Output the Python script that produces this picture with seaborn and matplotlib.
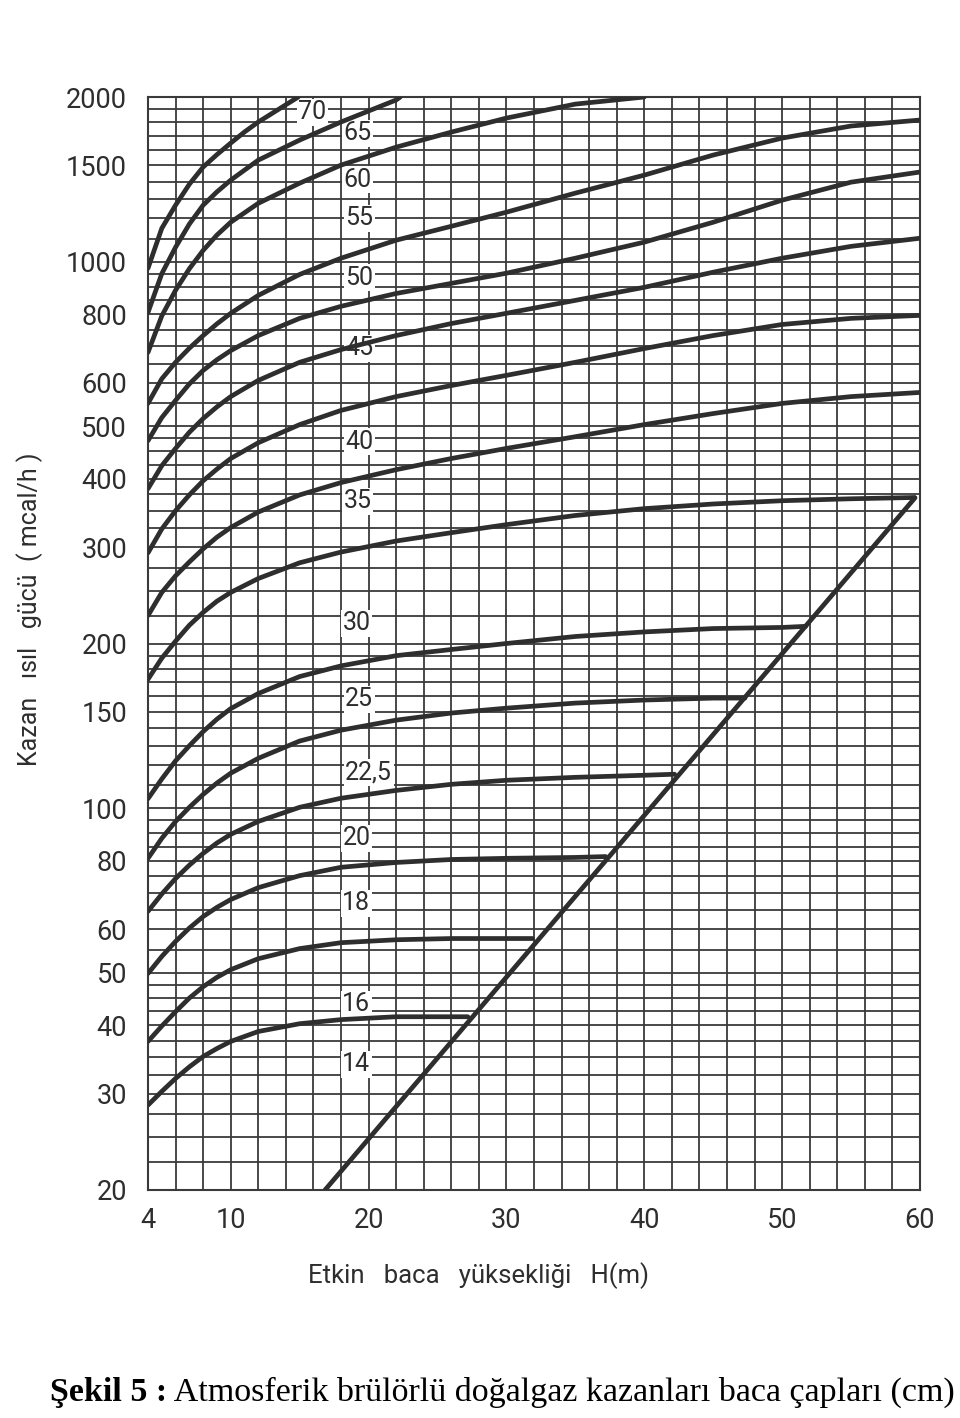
import numpy as np
import pandas as pd
import matplotlib
matplotlib.use("Agg")
import matplotlib.pyplot as plt
from matplotlib.ticker import NullFormatter, FixedLocator
import seaborn as sns

# ---------------- data ----------------
# chimney diameter (cm) -> effective height H (m) and boiler power (Mcal/h)
h_14 = [4, 5, 6, 7, 8, 9, 10, 12, 15, 18, 22, 26, 27.2]
v_14 = [28.6, 30.3, 32.0, 33.6, 35.1, 36.3, 37.4, 39.0, 40.3, 41.0, 41.5, 41.5, 41.5]
h_16 = [4, 5, 6, 7, 8, 9, 10, 12, 15, 18, 22, 26, 30, 31.9]
v_16 = [37.4, 39.9, 42.4, 44.9, 47.1, 49.0, 50.6, 53.0, 55.3, 56.7, 57.4, 57.7, 57.7, 57.7]
h_18 = [4, 5, 6, 7, 8, 9, 10, 12, 15, 18, 22, 26, 30, 35, 37.2]
v_18 = [49.8, 53.5, 57.0, 60.3, 63.3, 65.8, 68.0, 71.5, 75.2, 77.9, 79.5, 80.5, 80.9, 81.2, 81.5]
h_20 = [4, 5, 6, 7, 8, 9, 10, 12, 15, 18, 22, 26, 30, 35, 40, 42.2]
v_20 = [64.7, 69.6, 74.3, 78.6, 82.6, 86.3, 89.5, 94.5, 100.3, 104.2, 107.7, 110.5,
        112.4, 113.8, 114.8, 115.3]
h_225 = [4, 5, 6, 7, 8, 9, 10, 12, 15, 18, 22, 26, 30, 35, 40, 45, 47.3]
v_225 = [80.9, 88.0, 94.5, 100.3, 105.9, 111.1, 115.8, 123.3, 132.6, 138.8, 144.8,
         149.2, 152.3, 155.6, 157.6, 158.9, 158.9]
h_25 = [4, 5, 6, 7, 8, 9, 10, 12, 15, 18, 22, 26, 30, 35, 40, 45, 50, 51.7]
v_25 = [104, 113, 122, 130, 138, 145.4, 152, 162, 174, 182, 190, 195, 200, 206,
        210, 213, 214, 215]
h_30 = [4, 5, 6, 7, 8, 9, 10, 12, 15, 18, 22, 26, 30, 35, 40, 45, 50, 55, 59.6]
v_30 = [172, 188, 202, 216, 228, 239, 248, 263, 281, 294, 308, 319, 330, 343, 353,
        360, 365, 368, 370]
h_35 = [4, 5, 6, 7, 8, 9, 10, 12, 15, 18, 22, 26, 30, 35, 40, 45, 50, 55, 60]
v_35 = [225, 248, 266, 282, 298, 313, 326, 348, 374, 394, 416, 436, 455, 478, 503,
        527, 550, 566, 576]
h_40 = [4, 5, 6, 7, 8, 9, 10, 12, 15, 18, 22, 26, 30, 35, 40, 45, 50, 55, 60]
v_40 = [293, 324, 350, 374, 397, 417, 436, 466, 503, 534, 566, 593, 619, 654, 693,
        732, 767, 787, 797]
h_45 = [4, 5, 6, 7, 8, 9, 10, 12, 15, 18, 22, 26, 30, 35, 40, 45, 50, 55, 60]
v_45 = [384, 423, 455, 487, 516, 542, 566, 606, 654, 690, 732, 770, 804, 849, 897,
        956, 1014, 1066, 1103]
h_50 = [4, 5, 6, 7, 8, 9, 10, 12, 15, 18, 22, 26, 30, 35, 40, 45, 50, 55, 60]
v_50 = [470, 518, 557, 597, 632, 661, 687, 732, 787, 828, 874, 912, 952, 1014, 1085,
        1180, 1295, 1397, 1458]
h_55 = [4, 5, 6, 7, 8, 9, 10, 12, 15, 18, 22, 26, 30, 35, 40, 45, 50, 55, 60]
v_55 = [550, 610, 654, 694, 732, 769, 804, 867, 947, 1014, 1094, 1160, 1231, 1334,
        1439, 1566, 1682, 1770, 1815]
h_60 = [4, 5, 6, 7, 8, 9, 10, 12, 15, 18, 22, 26, 30, 35, 40]
v_60 = [682, 795, 886, 970, 1048, 1118, 1180, 1278, 1391, 1501, 1619, 1725, 1830,
        1941, 2000]
h_65 = [4, 5, 6, 7, 8, 9, 10, 12, 15, 18, 22, 22.3]
v_65 = [807, 950, 1062, 1171, 1268, 1341, 1409, 1533, 1668, 1800, 1975, 2000]
h_70 = [4, 5, 6, 7, 8, 9, 10, 11, 12, 14.9]
v_70 = [972, 1150, 1268, 1385, 1489, 1569, 1647, 1726, 1800, 2000]

curve_names = ["14", "16", "18", "20", "22,5", "25", "30", "35",
               "40", "45", "50", "55", "60", "65", "70"]
curve_h = [h_14, h_16, h_18, h_20, h_225, h_25, h_30, h_35,
           h_40, h_45, h_50, h_55, h_60, h_65, h_70]
curve_v = [v_14, v_16, v_18, v_20, v_225, v_25, v_30, v_35,
           v_40, v_45, v_50, v_55, v_60, v_65, v_70]

# limit line (ends of the curves)
limit_h = [16.84, 59.64]
limit_v = [20, 369.6]

# curve label anchor positions (H, power)
label_h = [18.1, 18.1, 18.1, 18.1, 18.3, 18.3, 18.1, 18.2,
           18.3, 18.3, 18.3, 18.3, 18.2, 18.2, 14.9]
label_v = [34, 43.7, 67, 88, 116, 158, 218, 364,
           468, 694, 933, 1200, 1410, 1718, 1877]

x_ticks = [4, 10, 20, 30, 40, 50, 60]
y_ticks = [20, 30, 40, 50, 60, 80, 100, 150, 200, 300, 400, 500, 600,
           800, 1000, 1500, 2000]

# graph-paper grid
grid_x = np.arange(4, 61, 2)
grid_y = np.concatenate([np.arange(20, 50, 2.5), np.arange(50, 100, 5),
                         np.arange(100, 200, 10), np.arange(200, 500, 25),
                         np.arange(500, 1000, 50), np.arange(1000, 2001, 100)])

rows = []
for name, hs, vs in zip(curve_names, curve_h, curve_v):
    for i, (h, v) in enumerate(zip(hs, vs)):
        rows.append({"curve": name, "order": i, "H": h, "P": v})
df = pd.DataFrame(rows)
df_limit = pd.DataFrame({"curve": ["limit", "limit"], "order": [0, 1],
                         "H": limit_h, "P": limit_v})

# ---------------- figure ----------------
sns.set_theme(style="white")
plt.rcParams["font.family"] = ["Roboto", "DejaVu Sans"]

ink = "#2e2e2e"
fig = plt.figure(figsize=(9.6, 14.18), dpi=100)
fig.patch.set_facecolor("white")
ax = fig.add_axes([148 / 960, 1 - 1190 / 1418, (920 - 148) / 960, (1190 - 97) / 1418])
ax.set_facecolor("white")
ax.set_yscale("log")

sns.lineplot(data=df, x="H", y="P", hue="curve", units="curve",
             estimator=None, sort=False,
             palette={n: ink for n in curve_names}, linewidth=3.4,
             legend=False, ax=ax, zorder=4)
sns.lineplot(data=df_limit, x="H", y="P", units="curve", estimator=None,
             sort=False, color=ink, linewidth=3.4, legend=False, ax=ax, zorder=4)
for ln in ax.get_lines():
    ln.set_solid_joinstyle("round")
    ln.set_solid_capstyle("round")

ax.set_xlim(4, 60)
ax.set_ylim(20, 2000)

ax.xaxis.set_major_locator(FixedLocator(x_ticks))
ax.xaxis.set_minor_locator(FixedLocator(grid_x))
ax.set_xticklabels([str(t) for t in x_ticks])
ax.yaxis.set_major_locator(FixedLocator(y_ticks))
ax.yaxis.set_minor_locator(FixedLocator(grid_y))
ax.set_yticklabels([str(t) for t in y_ticks])
ax.yaxis.set_minor_formatter(NullFormatter())
ax.xaxis.set_minor_formatter(NullFormatter())

ax.grid(True, which="both", color="#3a3a3a", linewidth=1.3)
ax.set_axisbelow(True)
for sp in ax.spines.values():
    sp.set_color("#3a3a3a")
    sp.set_linewidth(1.5)
ax.tick_params(which="both", length=0)
ax.tick_params(axis="y", labelsize=19.5, colors=ink, pad=15)
ax.tick_params(axis="x", labelsize=19.5, colors=ink, pad=12)

for name, lh, lv in zip(curve_names, label_h, label_v):
    ax.text(lh, lv, name, ha="left", va="center", fontsize=18, color=ink,
            zorder=3, bbox=dict(facecolor="white", edgecolor="none", pad=1.0))

ax.set_xlabel("Etkin   baca   yüksekliği   H(m)", fontsize=18.5, color=ink)
ax.set_ylabel("Kazan   ısıl   gücü  ( mcal/h )", fontsize=18, color=ink)
ax.yaxis.set_label_coords(-0.153, 0.531)
ax.xaxis.set_label_coords(0.4275, -0.078)
ax.xaxis.label.set_va("center")
ax.yaxis.label.set_va("center")

t1 = fig.text(50 / 960, 1 - 1393 / 1418, "Şekil 5 :", fontsize=24.5,
              fontweight="bold", family=["Liberation Serif", "DejaVu Serif"],
              ha="left", va="center", color="black")
fig.canvas.draw()
ax.annotate(" Atmosferik brülörlü doğalgaz kazanları baca çapları (cm)",
            xy=(1, 0), xycoords=t1, xytext=(0, 0), textcoords="offset points",
            ha="left", va="bottom", fontsize=24.5,
            family=["Liberation Serif", "DejaVu Serif"], color="black",
            annotation_clip=False)

fig.savefig("out.png", dpi=100, facecolor="white")
